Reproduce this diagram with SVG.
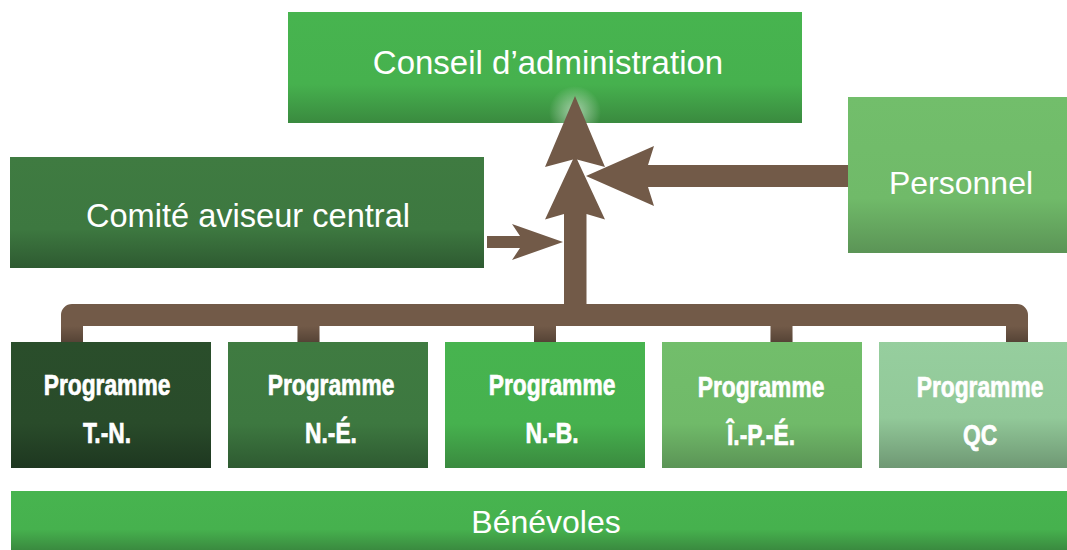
<svg xmlns="http://www.w3.org/2000/svg" width="1067" height="550" viewBox="0 0 1067 550">
  <style>
    .lbl { font-family: "Liberation Sans", Arial, sans-serif; font-size: 32px; fill: #ffffff; text-anchor: middle; }
    .prg { font-family: "Liberation Sans", Arial, sans-serif; font-size: 30px; font-weight: bold; fill: #ffffff; stroke: #ffffff; stroke-width: 0.7px; text-anchor: middle; }
    .brown { fill: #725a48; }
  </style>
  <defs>
    <linearGradient id="gBright" x1="0" y1="0" x2="0" y2="1">
      <stop offset="0" stop-color="#47b44f"/>
      <stop offset="0.65" stop-color="#46b14e"/>
      <stop offset="1" stop-color="#3a8a3f"/>
    </linearGradient>
    <linearGradient id="gMid" x1="0" y1="0" x2="0" y2="1">
      <stop offset="0" stop-color="#3f7b41"/>
      <stop offset="0.65" stop-color="#3d7840"/>
      <stop offset="1" stop-color="#2e5a31"/>
    </linearGradient>
    <linearGradient id="gDark" x1="0" y1="0" x2="0" y2="1">
      <stop offset="0" stop-color="#2a4e2b"/>
      <stop offset="0.65" stop-color="#294b2a"/>
      <stop offset="1" stop-color="#1e3720"/>
    </linearGradient>
    <linearGradient id="gLight" x1="0" y1="0" x2="0" y2="1">
      <stop offset="0" stop-color="#72be6b"/>
      <stop offset="0.65" stop-color="#70ba69"/>
      <stop offset="1" stop-color="#5b9456"/>
    </linearGradient>
    <linearGradient id="gPale" x1="0" y1="0" x2="0" y2="1">
      <stop offset="0" stop-color="#96ce9e"/>
      <stop offset="0.6" stop-color="#92c999"/>
      <stop offset="1" stop-color="#6f9874"/>
    </linearGradient>
    <linearGradient id="gStub" x1="0" y1="0" x2="0" y2="1">
      <stop offset="0" stop-color="#000000" stop-opacity="0"/>
      <stop offset="1" stop-color="#000000" stop-opacity="0.25"/>
    </linearGradient>
    <radialGradient id="gGlow" cx="0.5" cy="0.5" r="0.5">
      <stop offset="0" stop-color="#ffffff" stop-opacity="0.55"/>
      <stop offset="1" stop-color="#ffffff" stop-opacity="0"/>
    </radialGradient>
    <clipPath id="clipConseil">
      <rect x="288" y="12" width="514" height="111"/>
    </clipPath>
  </defs>

  <g id="conseil">
    <rect x="288" y="12" width="514" height="111" fill="url(#gBright)"/>
    <circle cx="575" cy="112" r="26" fill="url(#gGlow)" clip-path="url(#clipConseil)"/>
    <text class="lbl" x="548" y="74" style="font-size:33px">Conseil d’administration</text>
  </g>

  <g id="comite">
    <rect x="10" y="157" width="474" height="111" fill="url(#gMid)"/>
    <text class="lbl" x="248" y="227" style="font-size:32.6px">Comité aviseur central</text>
  </g>

  <g id="personnel">
    <rect x="848" y="97" width="219" height="156" fill="url(#gLight)"/>
    <text class="lbl" x="961" y="194">Personnel</text>
  </g>

  <g id="connectors">
    <path d="M72,342 V315 H1017 V342" fill="none" stroke="#725a48" stroke-width="22" stroke-linejoin="round"/>
    <rect class="brown" x="297.5" y="315" width="22" height="27"/>
    <rect class="brown" x="534" y="315" width="22" height="27"/>
    <rect class="brown" x="770.5" y="315" width="22" height="27"/>
    <g fill="url(#gStub)">
      <rect x="61" y="326" width="22" height="16"/>
      <rect x="297.5" y="326" width="22" height="16"/>
      <rect x="534" y="326" width="22" height="16"/>
      <rect x="770.5" y="326" width="22" height="16"/>
      <rect x="1006" y="326" width="22" height="16"/>
    </g>
    <polygon class="brown" points="575,96 605,167 575,159 545,167"/>
    <polygon class="brown" points="575,155 605,219.5 586.5,214 586.5,315 564,315 564,214 545,219.5"/>
    <polygon class="brown" points="586,176 654,146 648,165 848,165 848,187 648,187 654,206"/>
    <polygon class="brown" points="563,242 512,224 520,236 487,236 487,248 520,248 512,260"/>
  </g>

  <g id="prog-tn">
    <rect x="11" y="342" width="200" height="126" fill="url(#gDark)"/>
    <g transform="translate(107,0) scale(0.76,1)">
      <text class="prg" x="0" y="395">Programme</text>
      <text class="prg" x="0" y="443">T.-N.</text>
    </g>
  </g>

  <g id="prog-ne">
    <rect x="228" y="342" width="200" height="126" fill="url(#gMid)"/>
    <g transform="translate(331,0) scale(0.76,1)">
      <text class="prg" x="0" y="395">Programme</text>
      <text class="prg" x="0" y="443">N.-É.</text>
    </g>
  </g>

  <g id="prog-nb">
    <rect x="445" y="342" width="200" height="126" fill="url(#gBright)"/>
    <g transform="translate(552,0) scale(0.76,1)">
      <text class="prg" x="0" y="395">Programme</text>
      <text class="prg" x="0" y="443">N.-B.</text>
    </g>
  </g>

  <g id="prog-ipe">
    <rect x="662" y="342" width="200" height="126" fill="url(#gLight)"/>
    <g transform="translate(761,0) scale(0.76,1)">
      <text class="prg" x="0" y="397">Programme</text>
      <text class="prg" x="0" y="445">Î.-P.-É.</text>
    </g>
  </g>

  <g id="prog-qc">
    <rect x="879" y="342" width="188" height="126" fill="url(#gPale)"/>
    <g transform="translate(980,0) scale(0.76,1)">
      <text class="prg" x="0" y="397">Programme</text>
      <text class="prg" x="0" y="445">QC</text>
    </g>
  </g>

  <g id="benevoles">
    <rect x="11" y="491" width="1056" height="59" fill="url(#gBright)"/>
    <text class="lbl" x="546" y="533">Bénévoles</text>
  </g>
</svg>
